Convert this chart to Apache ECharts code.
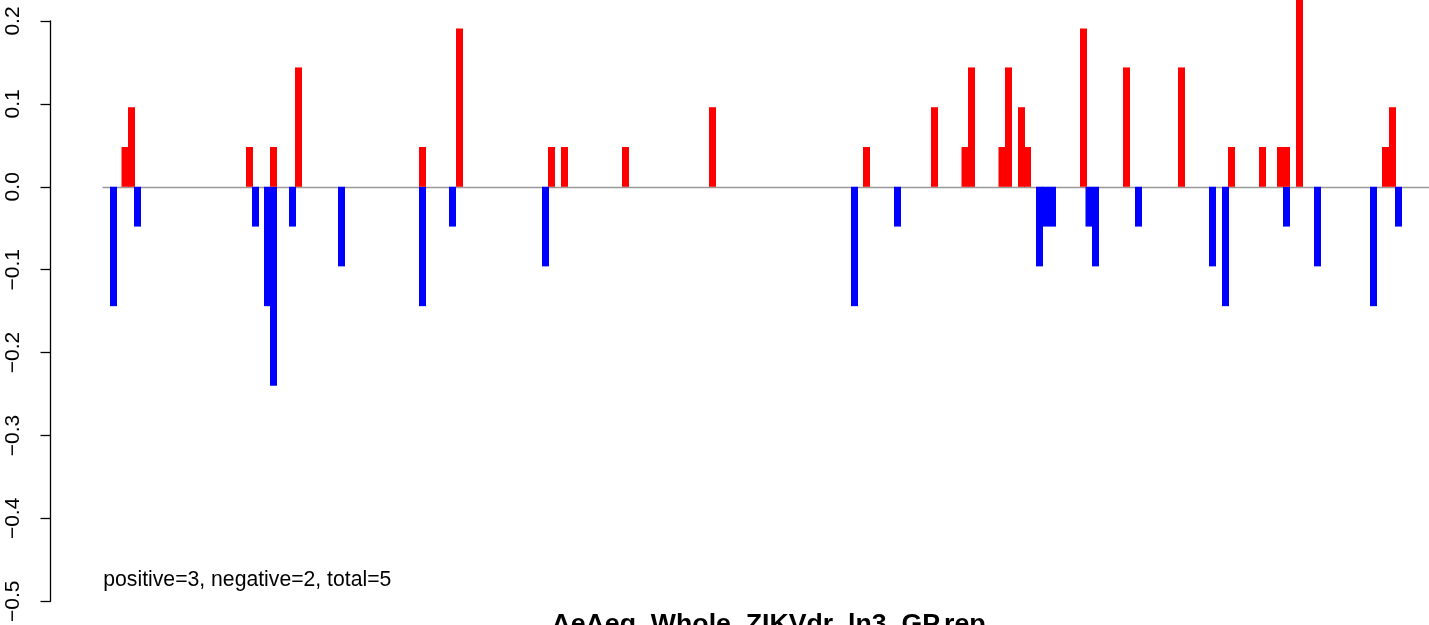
<!DOCTYPE html>
<html>
<head>
<meta charset="utf-8">
<script src="https://cdn.jsdelivr.net/npm/echarts@6/dist/echarts.min.js"></script>
<style>
html,body{margin:0;padding:0;background:#fff;}
#chart{width:1429px;height:625px;}
</style>
</head>
<body>
<div id="chart"></div>
<script>
// y-axis tick values
var yTicks = [-0.5, -0.4, -0.3, -0.2, -0.1, 0.0, 0.1, 0.2];
// x positions (axis units) and values of the negative (blue) bars
var negPos = [10.5, 34.5, 152.5, 164.5, 170.5, 189.5, 238.5, 319.5, 349.5, 442.5, 751.5, 794.5, 936.5, 942.5, 949.5, 986, 992.5, 1035.5, 1109.5, 1122.5, 1183.5, 1214.5, 1270.5, 1295.5];
var negVal = [-0.144, -0.048, -0.048, -0.144, -0.24, -0.048, -0.096, -0.144, -0.048, -0.096, -0.144, -0.048, -0.096, -0.048, -0.048, -0.048, -0.096, -0.048, -0.096, -0.144, -0.048, -0.096, -0.144, -0.048];
// x positions and values of the positive (red) bars
var posPos = [22, 28.5, 146.5, 170.5, 195.5, 319.5, 356.5, 448.5, 461.5, 522.5, 609.5, 763.5, 831.5, 862, 868.5, 899, 905.5, 918.5, 924.5, 980.5, 1023.5, 1078.5, 1128.5, 1159.5, 1177.5, 1183.5, 1196.5, 1282.5, 1289.5];
var posVal = [0.048, 0.096, 0.048, 0.048, 0.144, 0.048, 0.191, 0.048, 0.048, 0.048, 0.096, 0.048, 0.096, 0.048, 0.144, 0.048, 0.144, 0.096, 0.048, 0.191, 0.144, 0.144, 0.048, 0.048, 0.048, 0.048, 0.24, 0.048, 0.096];
var xRange = [0, 1326];
var noteText = 'positive=3, negative=2, total=5';
var titleText = 'AeAeg_Whole_ZIKVdr_ln3_GP.rep';

function zip(a, b) { return a.map(function (v, i) { return [v, b[i]]; }); }

function barRenderer(color) {
  return function (params, api) {
    var x = api.value(0), v = api.value(1);
    var p0 = api.coord([x, 0]);
    var p1 = api.coord([x, v]);
    var w = 7;
    return {
      type: 'rect',
      shape: { x: p0[0] - w / 2, y: Math.min(p0[1], p1[1]), width: w, height: Math.abs(p1[1] - p0[1]) },
      style: { fill: color }
    };
  };
}

var chart = echarts.init(document.getElementById('chart'), null, { renderer: 'canvas' });
var FONT = '"Liberation Sans", Arial, Helvetica, sans-serif';
chart.setOption({
  animation: false,
  backgroundColor: '#ffffff',
  grid: { left: 103, top: 21, width: 1326, bottom: 20.7, containLabel: false },
  xAxis: {
    type: 'value', min: xRange[0], max: xRange[1],
    axisLine: { show: true, onZero: true, lineStyle: { color: '#999999', width: 1.3 } },
    axisTick: { show: false }, axisLabel: { show: false }, splitLine: { show: false }
  },
  yAxis: {
    type: 'value', min: yTicks[0], max: yTicks[yTicks.length - 1], interval: 0.1,
    position: 'left', offset: 52.5,
    axisLine: { show: true, onZero: false, lineStyle: { color: '#000', width: 1.3 } },
    axisTick: { show: true, length: 10, lineStyle: { color: '#000', width: 1.3 } },
    splitLine: { show: false },
    axisLabel: {
      rotate: 90, margin: 27, color: '#000', fontSize: 21, fontFamily: FONT,
      formatter: function (v) {
        if (Math.abs(v) < 1e-9) return '0.0';
        return v.toFixed(1).replace('-', '\u2212');
      }
    }
  },
  series: [
    { type: 'custom', name: 'negative', data: zip(negPos, negVal), renderItem: barRenderer('#0000ff'), clip: false, silent: true },
    { type: 'custom', name: 'positive', data: zip(posPos, posVal), renderItem: barRenderer('#ff0000'), clip: false, silent: true }
  ],
  graphic: [
    { type: 'text', left: 103.3, top: 570, silent: true,
      style: { text: noteText, fill: '#000', font: '21.2px ' + FONT } },
    { type: 'text', x: 768.5, y: 625, silent: true,
      style: { text: titleText, fill: '#000', font: 'bold 26.7px ' + FONT, align: 'center', verticalAlign: 'middle' } }
  ]
});
</script>
</body>
</html>
